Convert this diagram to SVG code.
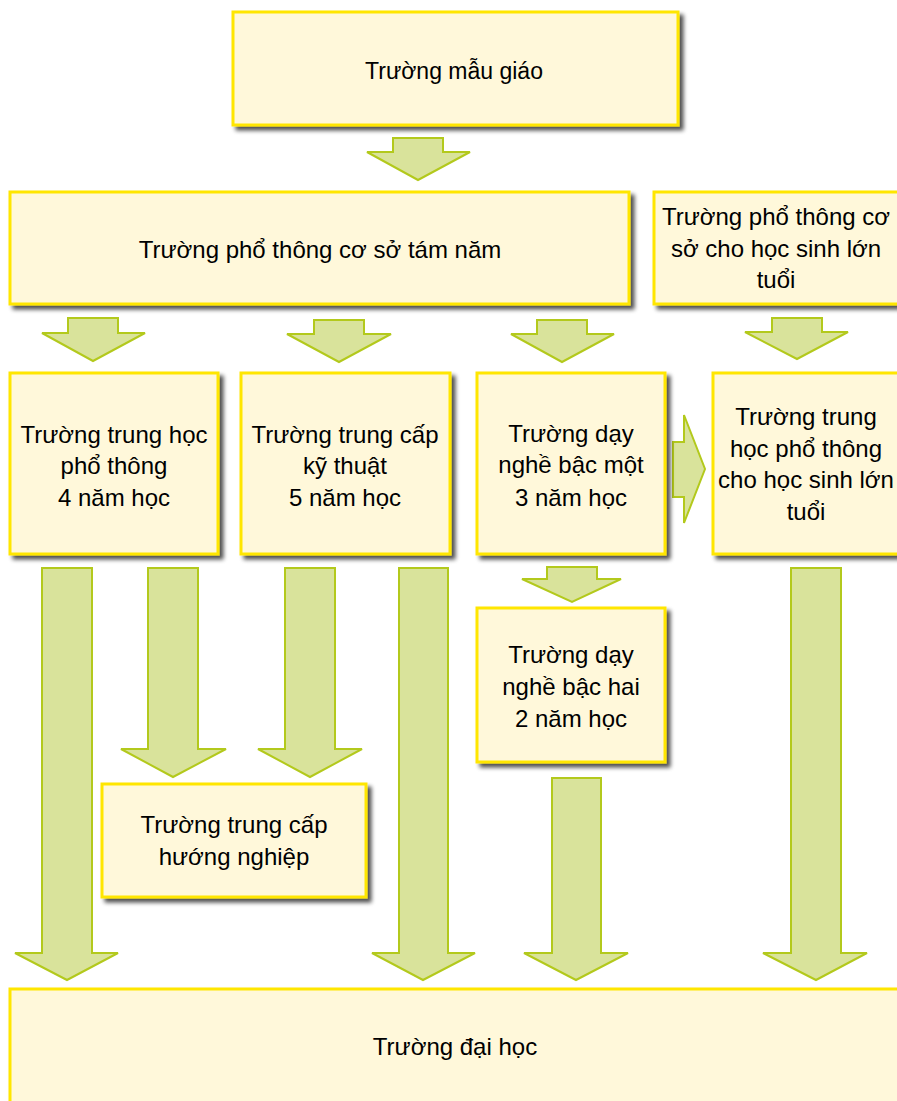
<svg xmlns="http://www.w3.org/2000/svg" width="897" height="1101" viewBox="0 0 897 1101">
<defs>
<filter id="sh" x="-5%" y="-5%" width="115%" height="120%">
<feGaussianBlur in="SourceAlpha" stdDeviation="2"/>
<feOffset dx="4" dy="4" result="b"/>
<feComponentTransfer><feFuncA type="linear" slope="0.7"/></feComponentTransfer>
<feMerge><feMergeNode/><feMergeNode in="SourceGraphic"/></feMerge>
</filter>
</defs>
<style>
.box{fill:#FFF8DA;stroke:#FFE600;stroke-width:3;filter:url(#sh)}
.t{font-family:"Liberation Sans",Arial,sans-serif;font-size:24px;fill:#000;text-anchor:middle}
.ar{fill:#D9E39B;stroke:#B3C91C;stroke-width:2;stroke-linejoin:miter}
</style>
<rect width="897" height="1101" fill="#FFFFFF"/>
<g id="connectors">
<path class="ar" d="M393,138 H443 V152 H470 L418,180 L367,152 H393 Z"/>
<path class="ar" d="M68,318 H118 V333 H145 L93,361 L42,333 H68 Z"/>
<path class="ar" d="M314,320 H364 V334 H391 L339,362 L287,334 H314 Z"/>
<path class="ar" d="M537,320 H587 V334 H614 L562,362 L511,334 H537 Z"/>
<path class="ar" d="M772,318 H822 V332 H848 L797,359 L745,332 H772 Z"/>
<path class="ar" d="M673,442 H684 V415 L705,469 L684,523 V497 H673 Z"/>
<path class="ar" d="M547,567 H597 V579 H621 L572,602 L522,579 H547 Z"/>
<path class="ar" d="M42,568 H92 V953 H118 L67,980 L15,953 H42 Z"/>
<path class="ar" d="M148,568 H198 V749 H226 L173,777 L121,749 H148 Z"/>
<path class="ar" d="M285,568 H335 V749 H362 L310,777 L258,749 H285 Z"/>
<path class="ar" d="M399,568 H448 V953 H475 L423,980 L372,953 H399 Z"/>
<path class="ar" d="M552,778 H601 V953 H628 L576,980 L524,953 H552 Z"/>
<path class="ar" d="M791,568 H841 V953 H867 L816,980 L763,953 H791 Z"/>
</g>
<g id="n-maugiao">
<rect class="box" x="233" y="12" width="445" height="113"/>
<text class="t" x="454" y="79" style="font-size:23px">Trường mẫu giáo</text>
</g>
<g id="n-ptcs">
<rect class="box" x="10" y="192" width="619" height="112"/>
<text class="t" x="320" y="258">Trường phổ thông cơ sở tám năm</text>
</g>
<g id="n-ptcs-lt">
<rect class="box" x="654" y="192" width="250" height="112"/>
<text class="t" x="776" y="225">Trường phổ thông cơ</text>
<text class="t" x="776" y="257">sở cho học sinh lớn</text>
<text class="t" x="776" y="288">tuổi</text>
</g>
<g id="n-thpt">
<rect class="box" x="10" y="373" width="208" height="181"/>
<text class="t" x="114" y="443">Trường trung học</text>
<text class="t" x="114" y="474">phổ thông</text>
<text class="t" x="114" y="506">4 năm học</text>
</g>
<g id="n-tckt">
<rect class="box" x="241" y="373" width="209" height="181"/>
<text class="t" x="345" y="443">Trường trung cấp</text>
<text class="t" x="345" y="474">kỹ thuật</text>
<text class="t" x="345" y="506">5 năm học</text>
</g>
<g id="n-dn1">
<rect class="box" x="477" y="373" width="188" height="181"/>
<text class="t" x="571" y="442">Trường dạy</text>
<text class="t" x="571" y="473">nghề bậc một</text>
<text class="t" x="571" y="506">3 năm học</text>
</g>
<g id="n-thpt-lt">
<rect class="box" x="713" y="373" width="190" height="181"/>
<text class="t" x="806" y="425">Trường trung</text>
<text class="t" x="806" y="457">học phổ thông</text>
<text class="t" x="806" y="488">cho học sinh lớn</text>
<text class="t" x="806" y="520">tuổi</text>
</g>
<g id="n-dn2">
<rect class="box" x="477" y="608" width="188" height="154"/>
<text class="t" x="571" y="663">Trường dạy</text>
<text class="t" x="571" y="695">nghề bậc hai</text>
<text class="t" x="571" y="727">2 năm học</text>
</g>
<g id="n-tchn">
<rect class="box" x="102" y="784" width="264" height="113"/>
<text class="t" x="234" y="833">Trường trung cấp</text>
<text class="t" x="234" y="865">hướng nghiệp</text>
</g>
<g id="n-daihoc">
<rect class="box" x="10" y="989" width="900" height="130"/>
<text class="t" x="455" y="1055">Trường đại học</text>
</g>
</svg>
